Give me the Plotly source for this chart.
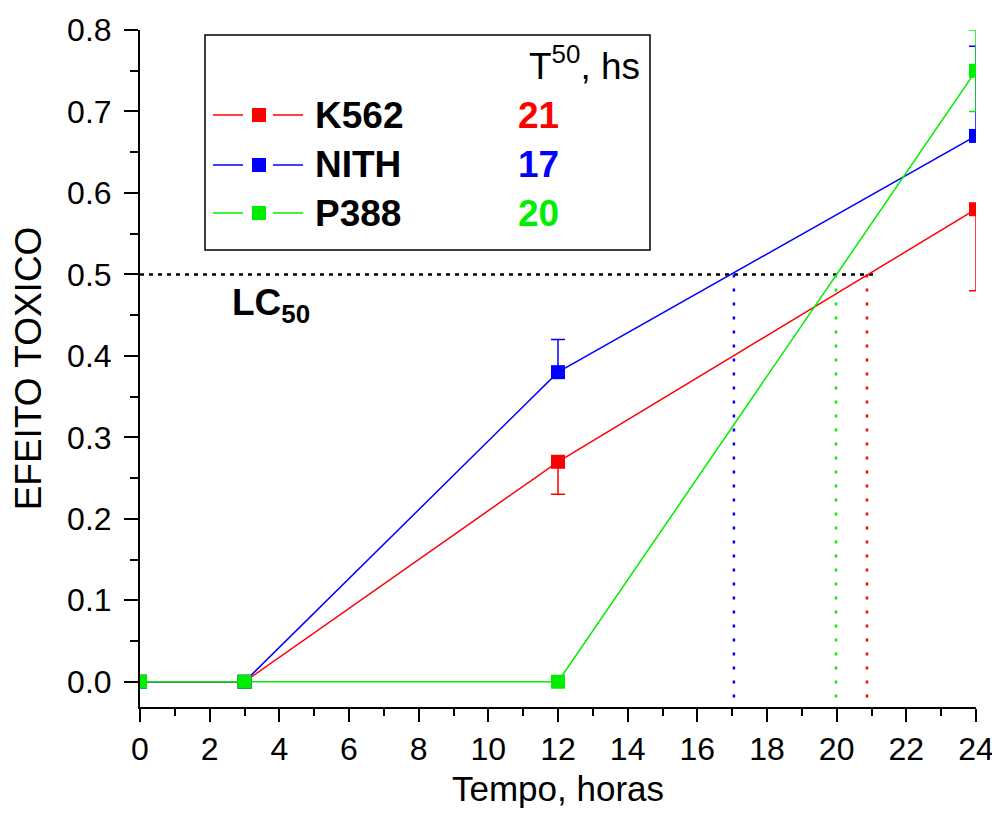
import plotly.graph_objects as go

# ---- data ----
time_h = [0, 3, 12, 24]
series_names = ["K562", "NITH", "P388"]
colors = ["#ff0000", "#0000ff", "#00ee00"]
k562 = [0, 0, 0.27, 0.58]
nith = [0, 0, 0.38, 0.67]
p388 = [0, 0, 0, 0.75]
k562_err_minus = [0, 0, 0.04, 0.10]
nith_err_plus = [0, 0, 0.04, 0.11]
p388_err = [0, 0, 0, 0.05]
t50_labels = ["21", "17", "20"]
t50_cross = [20.87, 17.05, 19.98]
lc50_level = 0.5
lc50_line_end = 21.15

x_ticks = list(range(0, 25, 2))
y_ticks = [0.0, 0.1, 0.2, 0.3, 0.4, 0.5, 0.6, 0.7, 0.8]
y_min, y_max = -0.031, 0.8

FONT = "Liberation Sans, Arial, sans-serif"

fig = go.Figure()

# LC50 reference lines
fig.add_trace(go.Scatter(x=[0, lc50_line_end], y=[lc50_level, lc50_level], mode="lines",
                         line=dict(color="black", width=2.5, dash="4px,5px"),
                         showlegend=False, hoverinfo="skip"))
for xc, c in zip(t50_cross, colors):
    fig.add_trace(go.Scatter(x=[xc, xc], y=[lc50_level, y_min], mode="lines",
                             line=dict(color=c, width=2.5, dash="3px,11px"),
                             showlegend=False, hoverinfo="skip"))

# data series
fig.add_trace(go.Scatter(x=time_h, y=k562, mode="lines+markers", name="K562",
                         line=dict(color=colors[0], width=1.5),
                         marker=dict(symbol="square", size=14, color=colors[0]),
                         error_y=dict(type="data", symmetric=False, array=[0]*4,
                                      arrayminus=k562_err_minus, color=colors[0],
                                      thickness=1.5, width=7),
                         showlegend=False))
fig.add_trace(go.Scatter(x=time_h, y=nith, mode="lines+markers", name="NITH",
                         line=dict(color=colors[1], width=1.5),
                         marker=dict(symbol="square", size=14, color=colors[1]),
                         error_y=dict(type="data", symmetric=False, array=nith_err_plus,
                                      arrayminus=[0]*4, color=colors[1],
                                      thickness=1.5, width=7),
                         showlegend=False))
fig.add_trace(go.Scatter(x=time_h, y=p388, mode="lines+markers", name="P388",
                         line=dict(color=colors[2], width=1.5),
                         marker=dict(symbol="square", size=14, color=colors[2]),
                         error_y=dict(type="data", array=p388_err, color=colors[2],
                                      thickness=1.5, width=7),
                         showlegend=False))

# page offset (browser default body margin)
OFF = 8
W, H = 1000 - OFF, 816 - OFF
# plot area in page pixels
L, R, T, B = 140, 976, 30, 707


def px(xp):
    return (xp - L) / (R - L)


def py(yp):
    return (B - yp) / (B - T)


shapes = []
annotations = []
# legend box
shapes.append(dict(type="rect", xref="paper", yref="paper",
                   x0=px(205), x1=px(650), y0=py(250), y1=py(35),
                   line=dict(color="black", width=1.5), fillcolor="white", layer="above"))
row_y = [115, 165, 213]
for name, c, lab, ry in zip(series_names, colors, t50_labels, row_y):
    shapes.append(dict(type="line", xref="paper", yref="paper", x0=px(213), x1=px(243),
                       y0=py(ry), y1=py(ry), line=dict(color=c, width=1.5), layer="above"))
    shapes.append(dict(type="line", xref="paper", yref="paper", x0=px(273), x1=px(303),
                       y0=py(ry), y1=py(ry), line=dict(color=c, width=1.5), layer="above"))
    shapes.append(dict(type="rect", xref="paper", yref="paper", x0=px(252), x1=px(266),
                       y0=py(ry + 7), y1=py(ry - 7), line=dict(width=0), fillcolor=c,
                       layer="above"))
    annotations.append(dict(xref="paper", yref="paper", x=px(313), y=py(ry),
                            xanchor="left", yanchor="middle", showarrow=False,
                            text="<b>%s</b>" % name,
                            font=dict(family=FONT, size=37, color="black")))
    annotations.append(dict(xref="paper", yref="paper", x=px(538), y=py(ry),
                            xanchor="center", yanchor="middle", showarrow=False,
                            text="<b>%s</b>" % lab,
                            font=dict(family=FONT, size=37, color=c)))
annotations.append(dict(xref="paper", yref="paper", x=px(527), y=py(64),
                        xanchor="left", yanchor="middle", showarrow=False,
                        text="T<sup>50</sup>, hs",
                        font=dict(family=FONT, size=37, color="black")))
annotations.append(dict(xref="paper", yref="paper", x=px(230), y=py(305),
                        xanchor="left", yanchor="middle", showarrow=False,
                        text="<b>LC<sub>50</sub></b>",
                        font=dict(family=FONT, size=37, color="black")))

fig.update_layout(
    width=W, height=H,
    margin=dict(l=L - OFF, r=W - (R - OFF), t=T - OFF, b=H - (B - OFF)),
    plot_bgcolor="white", paper_bgcolor="white",
    font=dict(family=FONT, color="black"),
    shapes=shapes, annotations=annotations,
    xaxis=dict(range=[0, 24], tickmode="array", tickvals=x_ticks,
               ticktext=[str(v) for v in x_ticks], automargin=False,
               showgrid=False, zeroline=False, showline=True, linecolor="black", linewidth=2,
               ticks="outside", ticklen=13, tickwidth=2, tickcolor="black",
               minor=dict(dtick=1, ticks="outside", ticklen=7, tickwidth=2, tickcolor="black"),
               tickfont=dict(size=32, family=FONT),
               title=dict(text="Tempo, horas", font=dict(size=35, family=FONT), standoff=10)),
    yaxis=dict(range=[y_min, y_max], tickmode="array", tickvals=y_ticks,
               ticktext=["%.1f" % v for v in y_ticks], automargin=False,
               showgrid=False, zeroline=False, showline=True, linecolor="black", linewidth=2,
               ticks="outside", ticklen=14, tickwidth=2, tickcolor="black",
               minor=dict(tickvals=[0.05, 0.15, 0.25, 0.35, 0.45, 0.55, 0.65, 0.75],
                          ticks="outside", ticklen=8, tickwidth=2, tickcolor="black"),
               tickfont=dict(size=32, family=FONT), ticklabelstandoff=6,
               title=dict(text="EFEITO TOXICO", font=dict(size=37, family=FONT), standoff=15)),
)

fig.write_html("out.html")
